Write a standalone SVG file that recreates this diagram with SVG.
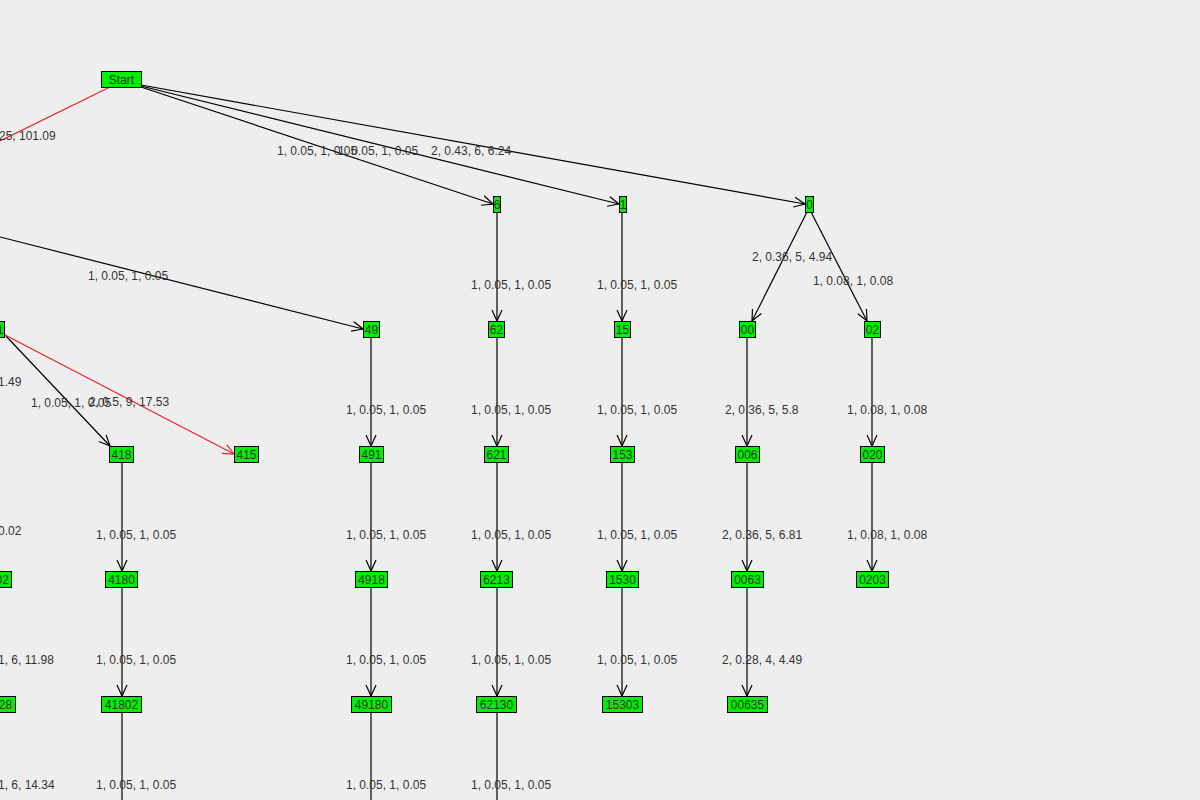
<svg xmlns="http://www.w3.org/2000/svg" width="1200" height="800" viewBox="0 0 1200 800">
<style>
.n rect{fill:#00ee00;stroke:#000;stroke-width:1}
.n text,.t text{font-family:"Liberation Sans",Arial,sans-serif;font-size:12px}
.n text{fill:#333;text-anchor:middle}
.t text{fill:#333}
.e line{stroke:#000;stroke-width:1.2}
.e line.r{stroke:#e8222a}
</style>
<defs>
<marker id="a" viewBox="0 0 12 12" refX="11" refY="6" markerWidth="12" markerHeight="12" markerUnits="userSpaceOnUse" orient="auto"><path d="M0,1 L11,6 L0,11" fill="none" stroke="#000" stroke-width="1.2"/></marker>
<marker id="ar" viewBox="0 0 12 12" refX="11" refY="6" markerWidth="12" markerHeight="12" markerUnits="userSpaceOnUse" orient="auto"><path d="M0,1 L11,6 L0,11" fill="none" stroke="#e8222a" stroke-width="1.2"/></marker>
</defs>
<rect width="1200" height="800" fill="#eeeeee"/>
<g class="e">
<line class="r" x1="110" y1="87" x2="0" y2="141"/>
<line x1="141" y1="87" x2="493" y2="204" marker-end="url(#a)"/>
<line x1="141" y1="86" x2="619" y2="204" marker-end="url(#a)"/>
<line x1="141" y1="85" x2="805" y2="204" marker-end="url(#a)"/>
<line x1="0" y1="237" x2="363" y2="329" marker-end="url(#a)"/>
<line x1="5" y1="335" x2="110" y2="446" marker-end="url(#a)"/>
<line class="r" x1="5" y1="335" x2="234" y2="454" marker-end="url(#ar)"/>
<line x1="807" y1="212" x2="752" y2="321" marker-end="url(#a)"/>
<line x1="811" y1="212" x2="867" y2="321" marker-end="url(#a)"/>
<line x1="497" y1="212" x2="497" y2="321" marker-end="url(#a)"/>
<line x1="622" y1="212" x2="622" y2="321" marker-end="url(#a)"/>
<line x1="371" y1="337" x2="371" y2="446" marker-end="url(#a)"/>
<line x1="497" y1="337" x2="497" y2="446" marker-end="url(#a)"/>
<line x1="622" y1="337" x2="622" y2="446" marker-end="url(#a)"/>
<line x1="747" y1="337" x2="747" y2="446" marker-end="url(#a)"/>
<line x1="872" y1="337" x2="872" y2="446" marker-end="url(#a)"/>
<line x1="122" y1="462" x2="122" y2="571" marker-end="url(#a)"/>
<line x1="371" y1="462" x2="371" y2="571" marker-end="url(#a)"/>
<line x1="497" y1="462" x2="497" y2="571" marker-end="url(#a)"/>
<line x1="622" y1="462" x2="622" y2="571" marker-end="url(#a)"/>
<line x1="747" y1="462" x2="747" y2="571" marker-end="url(#a)"/>
<line x1="872" y1="462" x2="872" y2="571" marker-end="url(#a)"/>
<line x1="122" y1="587" x2="122" y2="696" marker-end="url(#a)"/>
<line x1="371" y1="587" x2="371" y2="696" marker-end="url(#a)"/>
<line x1="497" y1="587" x2="497" y2="696" marker-end="url(#a)"/>
<line x1="622" y1="587" x2="622" y2="696" marker-end="url(#a)"/>
<line x1="747" y1="587" x2="747" y2="696" marker-end="url(#a)"/>
<line x1="122" y1="712" x2="122" y2="800"/>
<line x1="371" y1="712" x2="371" y2="800"/>
<line x1="497" y1="712" x2="497" y2="800"/>
</g>
<g class="t">
<text x="-1" y="140">25, 101.09</text>
<text x="277" y="155">1, 0.05, 1, 0.05</text>
<text x="338" y="155">1, 0.05, 1, 0.05</text>
<text x="431" y="155">2, 0.43, 6, 6.24</text>
<text x="752" y="261">2, 0.36, 5, 4.94</text>
<text x="813" y="285">1, 0.08, 1, 0.08</text>
<text x="88" y="280">1, 0.05, 1, 0.05</text>
<text x="471" y="289">1, 0.05, 1, 0.05</text>
<text x="597" y="289">1, 0.05, 1, 0.05</text>
<text x="-2" y="386">1.49</text>
<text x="31" y="407">1, 0.05, 1, 0.05</text>
<text x="89" y="406">2, 0.5, 9, 17.53</text>
<text x="346" y="414">1, 0.05, 1, 0.05</text>
<text x="471" y="414">1, 0.05, 1, 0.05</text>
<text x="597" y="414">1, 0.05, 1, 0.05</text>
<text x="725" y="414">2, 0.36, 5, 5.8</text>
<text x="847" y="414">1, 0.08, 1, 0.08</text>
<text x="-2" y="535">0.02</text>
<text x="96" y="539">1, 0.05, 1, 0.05</text>
<text x="346" y="539">1, 0.05, 1, 0.05</text>
<text x="471" y="539">1, 0.05, 1, 0.05</text>
<text x="597" y="539">1, 0.05, 1, 0.05</text>
<text x="722" y="539">2, 0.36, 5, 6.81</text>
<text x="847" y="539">1, 0.08, 1, 0.08</text>
<text x="-2" y="664">1, 6, 11.98</text>
<text x="96" y="664">1, 0.05, 1, 0.05</text>
<text x="346" y="664">1, 0.05, 1, 0.05</text>
<text x="471" y="664">1, 0.05, 1, 0.05</text>
<text x="597" y="664">1, 0.05, 1, 0.05</text>
<text x="722" y="664">2, 0.28, 4, 4.49</text>
<text x="-2" y="789">1, 6, 14.34</text>
<text x="96" y="789">1, 0.05, 1, 0.05</text>
<text x="346" y="789">1, 0.05, 1, 0.05</text>
<text x="471" y="789">1, 0.05, 1, 0.05</text>
</g>
<g class="n" id="n-start"><rect x="101.5" y="71.5" width="40" height="16"/><text x="121.5" y="84">Start</text></g>
<g class="n" id="n-6"><rect x="493.5" y="196.5" width="7" height="16"/><text x="497" y="209">6</text></g>
<g class="n" id="n-1"><rect x="619.5" y="196.5" width="7" height="16"/><text x="623" y="209">1</text></g>
<g class="n" id="n-0"><rect x="805.5" y="196.5" width="8" height="16"/><text x="809.5" y="209">0</text></g>
<g class="n" id="n-4"><rect x="-10.5" y="321.5" width="15" height="16"/><text x="-3" y="334">41</text></g>
<g class="n" id="n-49"><rect x="363.5" y="321.5" width="16" height="16"/><text x="371.5" y="334">49</text></g>
<g class="n" id="n-62"><rect x="488.5" y="321.5" width="16" height="16"/><text x="496.5" y="334">62</text></g>
<g class="n" id="n-15"><rect x="614.5" y="321.5" width="16" height="16"/><text x="622.5" y="334">15</text></g>
<g class="n" id="n-00"><rect x="739.5" y="321.5" width="16" height="16"/><text x="747.5" y="334">00</text></g>
<g class="n" id="n-02"><rect x="864.5" y="321.5" width="16" height="16"/><text x="872.5" y="334">02</text></g>
<g class="n" id="n-418"><rect x="109.5" y="446.5" width="24" height="16"/><text x="121.5" y="459">418</text></g>
<g class="n" id="n-415"><rect x="234.5" y="446.5" width="24" height="16"/><text x="246.5" y="459">415</text></g>
<g class="n" id="n-491"><rect x="359.5" y="446.5" width="24" height="16"/><text x="371.5" y="459">491</text></g>
<g class="n" id="n-621"><rect x="484.5" y="446.5" width="24" height="16"/><text x="496.5" y="459">621</text></g>
<g class="n" id="n-153"><rect x="610.5" y="446.5" width="24" height="16"/><text x="622.5" y="459">153</text></g>
<g class="n" id="n-006"><rect x="735.5" y="446.5" width="24" height="16"/><text x="747.5" y="459">006</text></g>
<g class="n" id="n-020"><rect x="860.5" y="446.5" width="24" height="16"/><text x="872.5" y="459">020</text></g>
<g class="n" id="n-x02"><rect x="-20.5" y="571.5" width="32" height="16"/><text x="-4.5" y="584">4102</text></g>
<g class="n" id="n-4180"><rect x="105.5" y="571.5" width="32" height="16"/><text x="121.5" y="584">4180</text></g>
<g class="n" id="n-4918"><rect x="355.5" y="571.5" width="32" height="16"/><text x="371.5" y="584">4918</text></g>
<g class="n" id="n-6213"><rect x="480.5" y="571.5" width="32" height="16"/><text x="496.5" y="584">6213</text></g>
<g class="n" id="n-1530"><rect x="606.5" y="571.5" width="32" height="16"/><text x="622.5" y="584">1530</text></g>
<g class="n" id="n-0063"><rect x="731.5" y="571.5" width="32" height="16"/><text x="747.5" y="584">0063</text></g>
<g class="n" id="n-0203"><rect x="856.5" y="571.5" width="32" height="16"/><text x="872.5" y="584">0203</text></g>
<g class="n" id="n-x28"><rect x="-24.5" y="696.5" width="40" height="16"/><text x="-4.5" y="709">41028</text></g>
<g class="n" id="n-41802"><rect x="101.5" y="696.5" width="40" height="16"/><text x="121.5" y="709">41802</text></g>
<g class="n" id="n-49180"><rect x="351.5" y="696.5" width="40" height="16"/><text x="371.5" y="709">49180</text></g>
<g class="n" id="n-62130"><rect x="476.5" y="696.5" width="40" height="16"/><text x="496.5" y="709">62130</text></g>
<g class="n" id="n-15303"><rect x="602.5" y="696.5" width="40" height="16"/><text x="622.5" y="709">15303</text></g>
<g class="n" id="n-00635"><rect x="727.5" y="696.5" width="40" height="16"/><text x="747.5" y="709">00635</text></g>
</svg>
